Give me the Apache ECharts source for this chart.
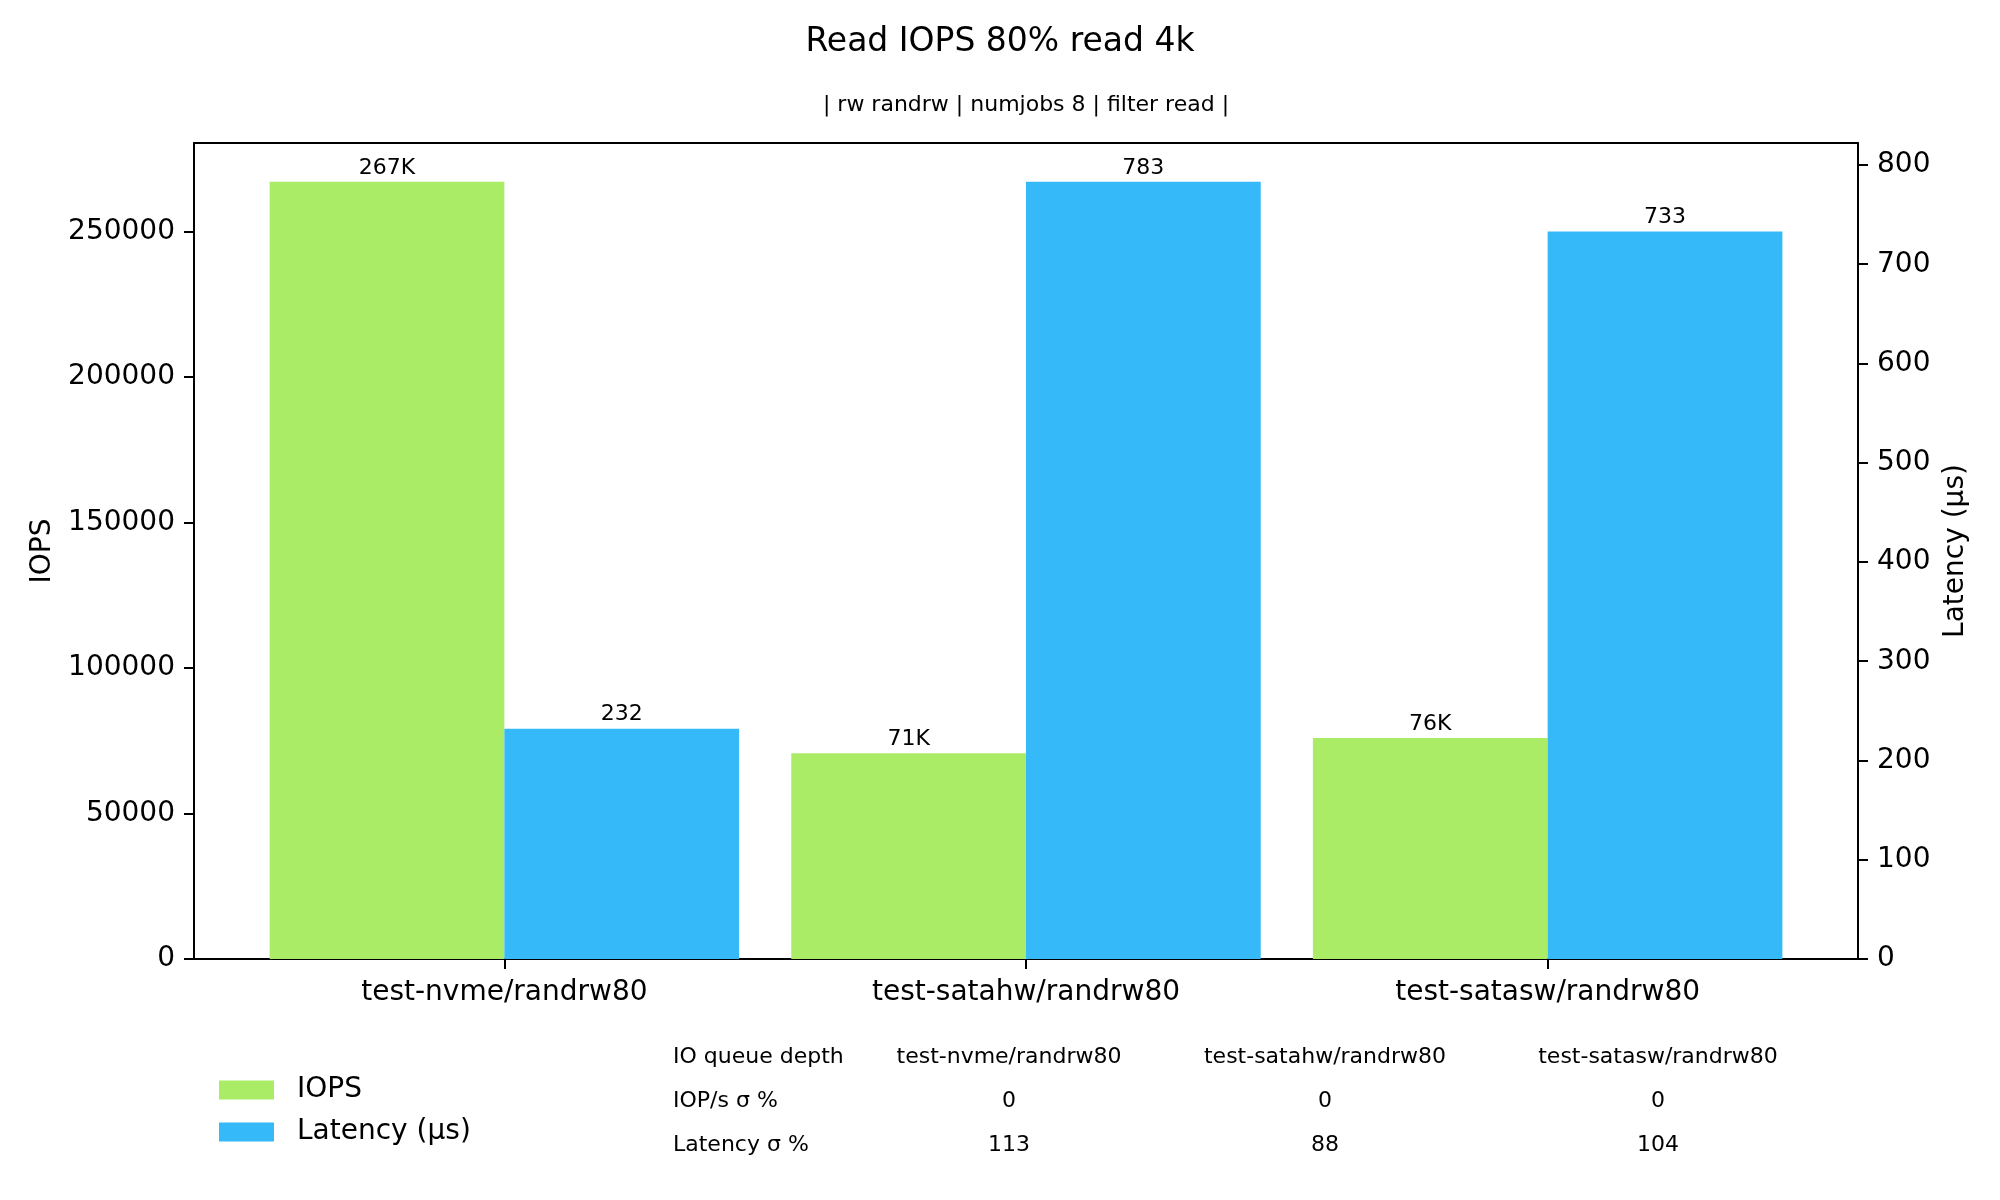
<!DOCTYPE html>
<html>
<head>
<meta charset="utf-8">
<script src="https://cdn.jsdelivr.net/npm/echarts@6/dist/echarts.min.js"></script>
<style>
html,body{margin:0;padding:0;background:#fff;}
#main{width:2000px;height:1200px;}
</style>
</head>
<body>
<div id="main"></div>
<script>
const categories = ['test-nvme/randrw80', 'test-satahw/randrw80', 'test-satasw/randrw80'];
const iopsValues = [267000, 70700, 75900];
const latencyValues = [232, 783, 733];
const iopsTicks = [0, 50000, 100000, 150000, 200000, 250000];
const latencyTicks = [0, 100, 200, 300, 400, 500, 600, 700, 800];
const tableHeader = 'IO queue depth';
const tableRowLabels = ['IOP/s σ %', 'Latency σ %'];
const iopsSigma = [0, 0, 0];
const latencySigma = [113, 88, 104];
const seriesNames = ['IOPS', 'Latency (µs)'];
const titleText = 'Read IOPS 80% read 4k';
const subtitleText = '| rw randrw | numjobs 8 | filter read |';

const GREEN = '#abec67';
const BLUE = '#36b9f9';
const FONT = 'DejaVu Sans';

const n = categories.length;
const barW = 0.45;
const span = (n - 1) + 2 * barW;
const xMin = -barW - 0.05 * span;
const xMax = (n - 1) + barW + 0.05 * span;
const iopsMax = Math.max(...iopsValues) * 1.05;
const latMax = Math.max(...latencyValues) * 1.05;
const idx = categories.map((c, i) => i);

const grid = {left: 194, top: 143, width: 1664, height: 816};
const colCenters = [1009, 1325, 1658];
const rowY = [1057, 1101, 1145];

const graphics = [];
graphics.push({type: 'text', x: 1026, y: 105, style: {text: subtitleText, fontFamily: FONT, fontSize: 22, fill: '#000', align: 'center', verticalAlign: 'middle'}});
graphics.push({type: 'text', x: 673, y: rowY[0], style: {text: tableHeader, fontFamily: FONT, fontSize: 22, fill: '#000', align: 'left', verticalAlign: 'middle'}});
categories.forEach((c, i) => graphics.push({type: 'text', x: colCenters[i], y: rowY[0], style: {text: c, fontFamily: FONT, fontSize: 22, fill: '#000', align: 'center', verticalAlign: 'middle'}}));
[iopsSigma, latencySigma].forEach((row, r) => {
  graphics.push({type: 'text', x: 673, y: rowY[r + 1], style: {text: tableRowLabels[r], fontFamily: FONT, fontSize: 22, fill: '#000', align: 'left', verticalAlign: 'middle'}});
  row.forEach((v, i) => graphics.push({type: 'text', x: colCenters[i], y: rowY[r + 1], style: {text: String(v), fontFamily: FONT, fontSize: 22, fill: '#000', align: 'center', verticalAlign: 'middle'}}));
});

const axisLine = {show: true, onZero: false, lineStyle: {color: '#000', width: 2}};
const axisTick = {show: true, length: 10, lineStyle: {color: '#000', width: 2}};
const labelStyle = {fontFamily: FONT, fontSize: 28, color: '#000'};

const option = {
  animation: false,
  backgroundColor: '#fff',
  textStyle: {fontFamily: FONT},
  title: {text: titleText, left: 'center', top: 21, textStyle: {fontFamily: FONT, fontSize: 33, fontWeight: 'normal', color: '#000'}},
  grid: grid,
  legend: {
    data: seriesNames, orient: 'vertical', left: 219, top: 1076, padding: 0,
    itemWidth: 55, itemHeight: 19, itemGap: 14, icon: 'rect',
    textStyle: {fontFamily: FONT, fontSize: 28, color: '#000', padding: [0, 0, 0, 18]}
  },
  xAxis: [{
    type: 'value', min: xMin, max: xMax, position: 'bottom',
    axisLine: axisLine, splitLine: {show: false},
    axisTick: Object.assign({customValues: idx}, axisTick),
    axisLabel: Object.assign({customValues: idx, margin: 20, formatter: v => categories[Math.round(v)]}, labelStyle)
  }, {
    type: 'value', min: xMin, max: xMax, position: 'top',
    axisLine: axisLine, splitLine: {show: false}, axisTick: {show: false}, axisLabel: {show: false}
  }],
  yAxis: [{
    type: 'value', min: 0, max: iopsMax, position: 'left',
    name: 'IOPS', nameLocation: 'middle', nameRotate: 90, nameGap: 133,
    nameTextStyle: {fontFamily: FONT, fontSize: 28, color: '#000'},
    axisLine: axisLine, splitLine: {show: false},
    axisTick: Object.assign({customValues: iopsTicks}, axisTick),
    axisLabel: Object.assign({customValues: iopsTicks, margin: 19, formatter: v => String(v)}, labelStyle)
  }, {
    type: 'value', min: 0, max: latMax, position: 'right',
    name: 'Latency (µs)', nameLocation: 'middle', nameRotate: 90, nameGap: 83,
    nameTextStyle: {fontFamily: FONT, fontSize: 28, color: '#000'},
    axisLine: axisLine, splitLine: {show: false},
    axisTick: Object.assign({customValues: latencyTicks}, axisTick),
    axisLabel: Object.assign({customValues: latencyTicks, margin: 19, formatter: v => String(v)}, labelStyle)
  }],
  series: [{
    name: seriesNames[0], type: 'bar', xAxisIndex: 0, yAxisIndex: 0,
    barWidth: '45%', barGap: '0%', itemStyle: {color: GREEN},
    data: iopsValues.map((v, i) => [i, v]),
    label: {show: true, position: 'top', distance: 3, fontFamily: FONT, fontSize: 22, color: '#000',
      formatter: p => Math.round(p.value[1] / 1000) + 'K'}
  }, {
    name: seriesNames[1], type: 'bar', xAxisIndex: 0, yAxisIndex: 1,
    barWidth: '45%', barGap: '0%', itemStyle: {color: BLUE},
    data: latencyValues.map((v, i) => [i, v]),
    label: {show: true, position: 'top', distance: 3, fontFamily: FONT, fontSize: 22, color: '#000',
      formatter: p => String(p.value[1])}
  }],
  graphic: graphics
};

const chart = echarts.init(document.getElementById('main'));
chart.setOption(option);
</script>
</body>
</html>
